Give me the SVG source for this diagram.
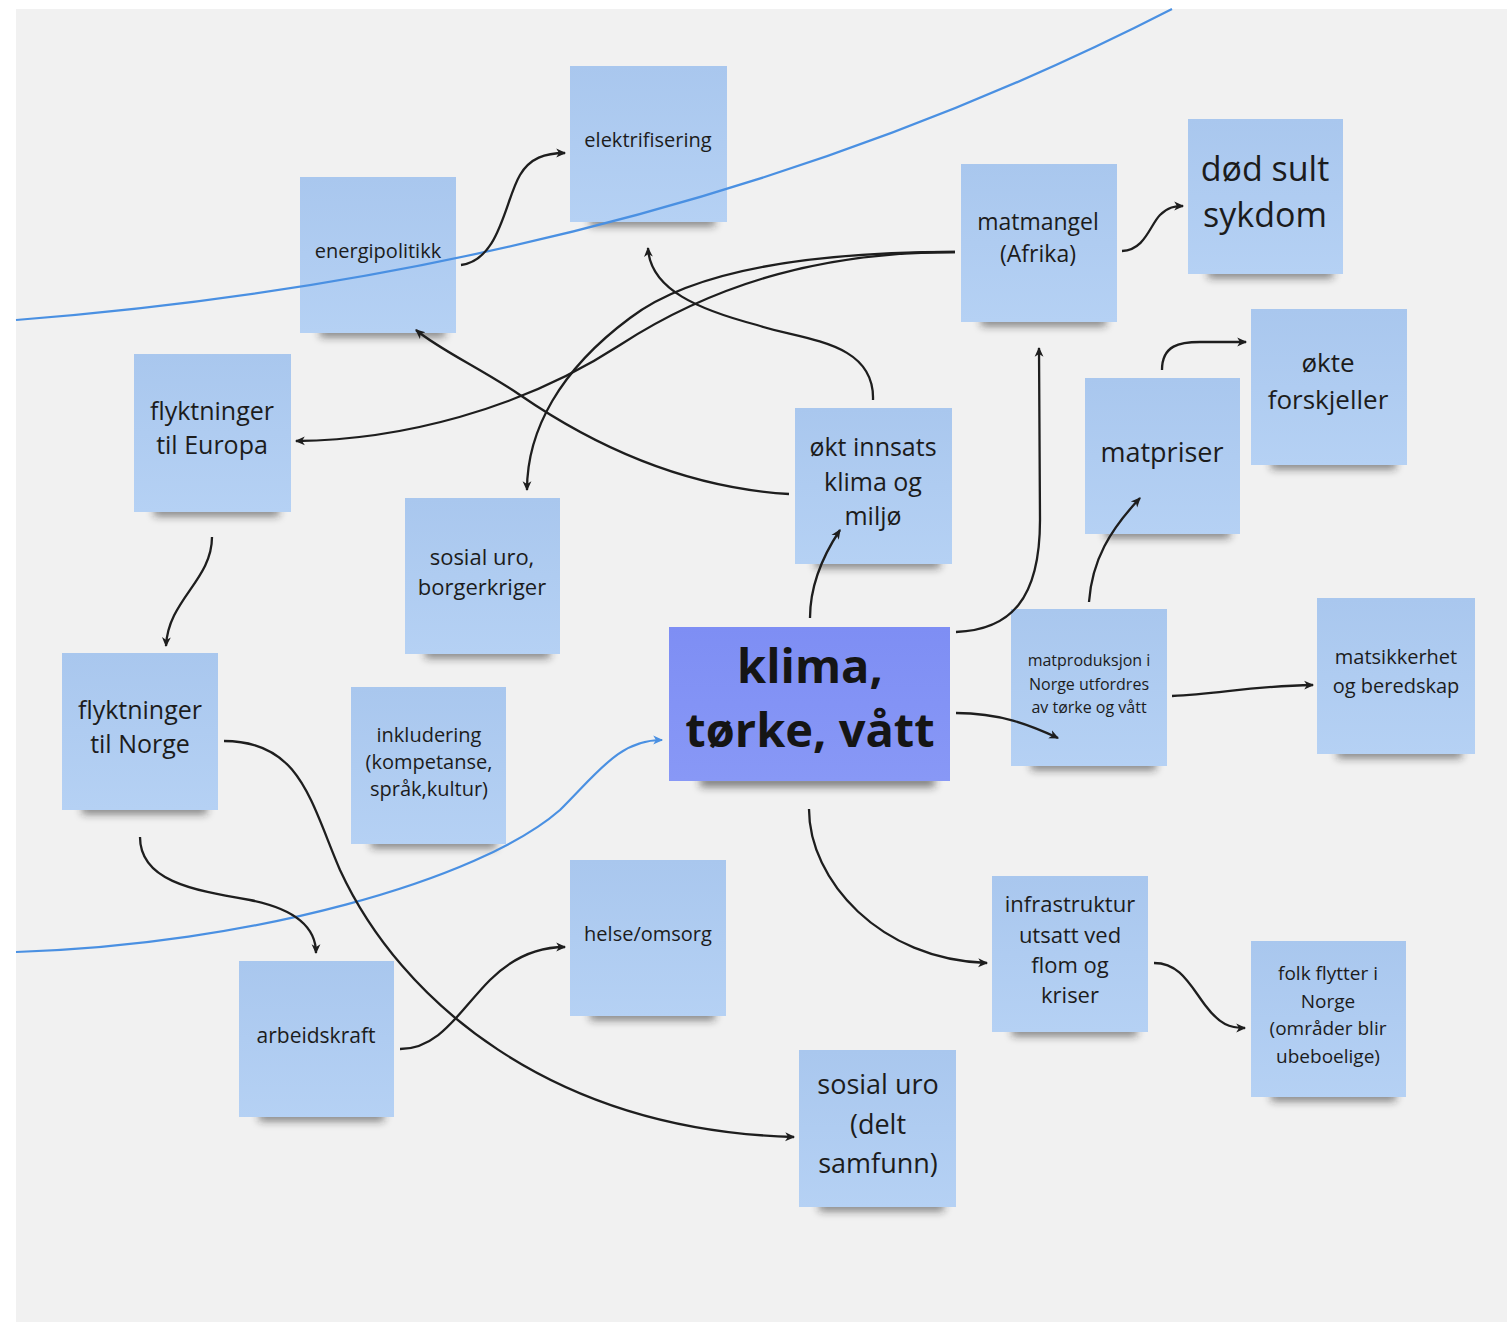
<svg xmlns="http://www.w3.org/2000/svg" width="1507" height="1322" viewBox="0 0 1507 1322">
<defs>
<linearGradient id="gNote" x1="0" y1="0" x2="0" y2="1">
<stop offset="0" stop-color="#a9c7ee"/>
<stop offset="1" stop-color="#b5d1f4"/>
</linearGradient>
<linearGradient id="gMain" x1="0" y1="0" x2="0" y2="1">
<stop offset="0" stop-color="#7e8ef4"/>
<stop offset="1" stop-color="#8898f6"/>
</linearGradient>
<filter id="blur" x="-20%" y="-100%" width="140%" height="300%">
<feGaussianBlur stdDeviation="4"/>
</filter>
<marker id="arr" viewBox="0 0 10 10" refX="8" refY="5" markerWidth="11" markerHeight="11" markerUnits="userSpaceOnUse" orient="auto">
<path d="M0,1 L9,5 L0,9 L2.5,5 Z" fill="#1e1e1e"/>
</marker>
<marker id="arrB" viewBox="0 0 10 10" refX="8" refY="5" markerWidth="11" markerHeight="11" markerUnits="userSpaceOnUse" orient="auto">
<path d="M0,1 L9,5 L0,9 L2.5,5 Z" fill="#4a90e2"/>
</marker>
</defs>
<style>
.note{fill:url(#gNote);}
.main{fill:url(#gMain);}
.sh{fill:#1a1a1a;opacity:0.55;filter:url(#blur);}
.t{font-family:"Open Sans","DejaVu Sans",sans-serif;fill:#1c1c1c;text-anchor:middle;}
.b{font-weight:700;fill:#151515;}
.c{fill:none;stroke:#1e1e1e;stroke-width:2.3;marker-end:url(#arr);}
.bl{fill:none;stroke:#4a90e2;stroke-width:2.2;}
</style>
<rect x="0" y="0" width="1507" height="1322" fill="#ffffff"/>
<rect x="16" y="9" width="1491" height="1313" fill="#f1f1f1"/>

<g id="n-elektrifisering"><rect class="sh" x="590" y="216" width="125" height="10"/><rect class="note" x="570" y="66" width="157" height="156"/><text class="t" x="648" y="147" font-size="20">elektrifisering</text></g>
<g id="n-energipolitikk"><rect class="sh" x="320" y="327" width="125" height="10"/><rect class="note" x="300" y="177" width="156" height="156"/><text class="t" x="378" y="258" font-size="20">energipolitikk</text></g>
<g id="n-matmangel"><rect class="sh" x="981" y="316" width="125" height="10"/><rect class="note" x="961" y="164" width="156" height="158"/><text class="t" font-size="23"><tspan x="1038" y="230">matmangel</tspan><tspan x="1038" y="262">(Afrika)</tspan></text></g>
<g id="n-dod"><rect class="sh" x="1208" y="268" width="125" height="10"/><rect class="note" x="1188" y="119" width="155" height="155"/><text class="t" font-size="34"><tspan x="1265" y="181">død sult</tspan><tspan x="1265" y="227">sykdom</tspan></text></g>
<g id="n-flyktEuropa"><rect class="sh" x="154" y="506" width="125" height="10"/><rect class="note" x="134" y="354" width="157" height="158"/><text class="t" font-size="25"><tspan x="212" y="420">flyktninger</tspan><tspan x="212" y="454">til Europa</tspan></text></g>
<g id="n-okte"><rect class="sh" x="1271" y="459" width="125" height="10"/><rect class="note" x="1251" y="309" width="156" height="156"/><text class="t" font-size="26"><tspan x="1328" y="372">økte</tspan><tspan x="1328" y="409">forskjeller</tspan></text></g>
<g id="n-matpriser"><rect class="sh" x="1105" y="528" width="125" height="10"/><rect class="note" x="1085" y="378" width="155" height="156"/><text class="t" x="1162" y="462" font-size="27">matpriser</text></g>
<g id="n-okt"><rect class="sh" x="815" y="558" width="125" height="10"/><rect class="note" x="795" y="408" width="157" height="156"/><text class="t" font-size="25"><tspan x="873" y="456">økt innsats</tspan><tspan x="873" y="491">klima og</tspan><tspan x="873" y="525">miljø</tspan></text></g>
<g id="n-sosialuro1"><rect class="sh" x="425" y="648" width="125" height="10"/><rect class="note" x="405" y="498" width="155" height="156"/><text class="t" font-size="22"><tspan x="482" y="565">sosial uro,</tspan><tspan x="482" y="595">borgerkriger</tspan></text></g>
<g id="n-klima"><rect class="sh" x="700" y="775" width="235" height="12"/><rect class="main" x="669" y="627" width="281" height="154"/><text class="t b" font-size="47"><tspan x="810" y="683">klima,</tspan><tspan x="810" y="747">tørke, vått</tspan></text></g>
<g id="n-matproduksjon"><rect class="sh" x="1031" y="760" width="125" height="10"/><rect class="note" x="1011" y="609" width="156" height="157"/><text class="t" font-size="16"><tspan x="1089" y="666">matproduksjon i</tspan><tspan x="1089" y="690">Norge utfordres</tspan><tspan x="1089" y="713">av tørke og vått</tspan></text></g>
<g id="n-matsikkerhet"><rect class="sh" x="1337" y="748" width="125" height="10"/><rect class="note" x="1317" y="598" width="158" height="156"/><text class="t" font-size="20"><tspan x="1396" y="664">matsikkerhet</tspan><tspan x="1396" y="693">og beredskap</tspan></text></g>
<g id="n-flyktNorge"><rect class="sh" x="82" y="804" width="125" height="10"/><rect class="note" x="62" y="653" width="156" height="157"/><text class="t" font-size="25"><tspan x="140" y="719">flyktninger</tspan><tspan x="140" y="753">til Norge</tspan></text></g>
<g id="n-inkludering"><rect class="sh" x="371" y="838" width="125" height="10"/><rect class="note" x="351" y="687" width="155" height="157"/><text class="t" font-size="20"><tspan x="429" y="742">inkludering</tspan><tspan x="429" y="769">(kompetanse,</tspan><tspan x="429" y="796">språk,kultur)</tspan></text></g>
<g id="n-helse"><rect class="sh" x="590" y="1010" width="125" height="10"/><rect class="note" x="570" y="860" width="156" height="156"/><text class="t" x="648" y="941" font-size="20">helse/omsorg</text></g>
<g id="n-arbeidskraft"><rect class="sh" x="259" y="1111" width="125" height="10"/><rect class="note" x="239" y="961" width="155" height="156"/><text class="t" x="316" y="1043" font-size="21">arbeidskraft</text></g>
<g id="n-infrastruktur"><rect class="sh" x="1012" y="1026" width="125" height="10"/><rect class="note" x="992" y="876" width="156" height="156"/><text class="t" font-size="22"><tspan x="1070" y="912">infrastruktur</tspan><tspan x="1070" y="943">utsatt ved</tspan><tspan x="1070" y="973">flom og</tspan><tspan x="1070" y="1003">kriser</tspan></text></g>
<g id="n-folk"><rect class="sh" x="1271" y="1091" width="125" height="10"/><rect class="note" x="1251" y="941" width="155" height="156"/><text class="t" font-size="19"><tspan x="1328" y="980">folk flytter i</tspan><tspan x="1328" y="1008">Norge</tspan><tspan x="1328" y="1035">(områder blir</tspan><tspan x="1328" y="1063">ubeboelige)</tspan></text></g>
<g id="n-sosialuro2"><rect class="sh" x="819" y="1201" width="125" height="10"/><rect class="note" x="799" y="1050" width="157" height="157"/><text class="t" font-size="27"><tspan x="878" y="1094">sosial uro</tspan><tspan x="878" y="1134">(delt</tspan><tspan x="878" y="1173">samfunn)</tspan></text></g>

<g id="boundaries">
<path class="bl" d="M16,320 C400,290 800,200 1172,9"/>
<path class="bl" d="M16,952 C250,945 480,880 560,810 C600,770 620,740 662,740" marker-end="url(#arrB)"/>
</g>

<g id="connectors">
<path class="c" d="M461,265 C500,260 505,200 520,175 C530,158 545,153 565,153"/>
<path class="c" d="M873,400 C875,340 800,340 757,325 C700,310 650,290 648,248"/>
<path class="c" d="M955,252 C830,252 720,280 620,345 C520,410 400,440 296,441"/>
<path class="c" d="M955,252 C800,252 690,272 630,318 C560,370 527,430 527,490"/>
<path class="c" d="M789,494 C690,488 600,450 520,395 C480,368 440,350 416,330"/>
<path class="c" d="M810,618 C810,590 820,560 840,530"/>
<path class="c" d="M956,632 C1010,630 1040,600 1040,520 L1039,348"/>
<path class="c" d="M1122,251 C1145,250 1150,225 1160,215 C1168,207 1175,206 1183,206"/>
<path class="c" d="M1089,602 C1092,560 1110,530 1140,498"/>
<path class="c" d="M1162,370 C1162,345 1180,342 1200,342 L1246,342"/>
<path class="c" d="M956,713 C1000,713 1030,725 1058,738"/>
<path class="c" d="M1172,696 C1220,694 1250,686 1313,685"/>
<path class="c" d="M809,809 C809,880 880,960 987,963"/>
<path class="c" d="M1154,963 C1180,963 1190,985 1205,1005 C1220,1025 1230,1028 1245,1028"/>
<path class="c" d="M212,537 C212,580 168,600 166,646"/>
<path class="c" d="M224,741 C300,741 310,800 340,870 C400,1000 550,1130 794,1137"/>
<path class="c" d="M140,837 C140,880 190,890 250,900 C300,910 316,930 316,953"/>
<path class="c" d="M400,1049 C440,1049 460,1010 490,980 C515,955 540,947 565,947"/>
</g>
</svg>
